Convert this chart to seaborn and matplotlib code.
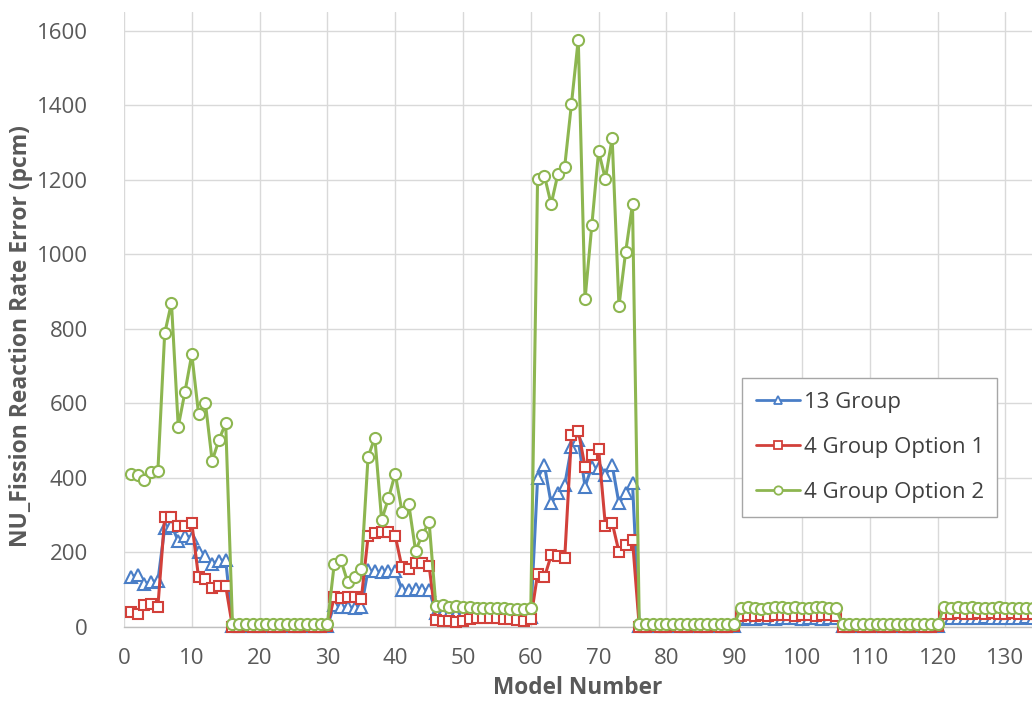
import numpy as np
import pandas as pd
import matplotlib
matplotlib.use("Agg")
import matplotlib.pyplot as plt
from matplotlib.lines import Line2D
from matplotlib.ticker import MultipleLocator
import seaborn as sns

# Model numbers 1..135, in blocks of 15 models
models = list(range(1, 136))

group13 = [
    133, 140, 115, 122, 124, 266, 272, 232, 245, 240, 200, 190, 170, 178, 180,
    3, 4, 3, 3, 4, 3, 3, 4, 3, 3, 4, 3, 3, 4, 3,
    58, 53, 54, 52, 53, 153, 150, 148, 149, 150, 100, 98, 101, 99, 100,
    38, 37, 35, 36, 34, 32, 31, 30, 29, 29, 28, 27, 26, 26, 28,
    399, 435, 332, 359, 381, 484, 502, 377, 430, 426, 408, 435, 332, 359, 386,
    3, 4, 3, 3, 4, 3, 3, 4, 3, 3, 4, 3, 3, 4, 3,
    22, 23, 22, 24, 23, 22, 23, 24, 23, 22, 24, 23, 22, 23, 24,
    3, 4, 3, 3, 4, 3, 3, 4, 3, 3, 4, 3, 3, 4, 3,
    24, 25, 24, 25, 24, 25, 26, 25, 24, 25, 24, 25, 26, 25, 24,
]

group4_opt1 = [
    40, 35, 58, 62, 55, 294, 296, 272, 270, 279, 133, 130, 105, 110, 110,
    1, 1, 2, 1, 1, 2, 1, 1, 2, 1, 1, 2, 1, 1, 2,
    80, 78, 81, 80, 75, 243, 252, 256, 255, 245, 160, 157, 173, 172, 165,
    18, 16, 15, 14, 15, 22, 25, 24, 24, 23, 22, 21, 18, 17, 22,
    142, 133, 192, 190, 184, 515, 527, 430, 462, 478, 272, 280, 202, 220, 234,
    1, 1, 2, 1, 1, 2, 1, 1, 2, 1, 1, 2, 1, 1, 2,
    30, 31, 30, 32, 30, 31, 33, 31, 30, 32, 31, 30, 32, 31, 30,
    1, 1, 2, 1, 1, 2, 1, 1, 2, 1, 1, 2, 1, 1, 2,
    36, 35, 37, 36, 35, 37, 36, 38, 36, 35, 37, 36, 35, 36, 37,
]

group4_opt2 = [
    412, 408, 395, 415, 420, 788, 870, 538, 632, 732, 572, 602, 446, 502, 547,
    8, 7, 8, 9, 8, 7, 8, 8, 9, 8, 7, 8, 8, 7, 8,
    168, 179, 120, 133, 155, 457, 508, 287, 345, 412, 310, 330, 205, 247, 282,
    57, 58, 55, 56, 55, 53, 52, 50, 50, 51, 50, 49, 48, 48, 50,
    1204, 1212, 1135, 1216, 1236, 1405, 1577, 880, 1079, 1277, 1203, 1312, 862, 1008, 1135,
    8, 7, 8, 9, 8, 7, 8, 8, 9, 8, 7, 8, 8, 7, 8,
    50, 54, 52, 48, 50, 55, 53, 51, 54, 52, 50, 53, 55, 52, 50,
    7, 8, 7, 8, 9, 7, 8, 7, 8, 8, 7, 9, 8, 7, 8,
    55, 52, 53, 50, 54, 52, 51, 50, 53, 52, 50, 51, 52, 50, 50,
]

series_names = ["13 Group", "4 Group Option 1", "4 Group Option 2"]
series_colors = ["#4A7EC7", "#D2403A", "#8DB650"]
series_markers = ["^", "s", "o"]

y_ticks = [0, 200, 400, 600, 800, 1000, 1200, 1400, 1600]
x_ticks = list(range(0, 140, 10))

df = pd.DataFrame({"Model": models * 3,
                   "Error": group13 + group4_opt1 + group4_opt2,
                   "Series": [n for n in series_names for _ in models]})

sns.set_theme(style="white")
plt.rcParams["font.family"] = ["Open Sans", "DejaVu Sans"]

fig = plt.figure(figsize=(10.32, 7.05), dpi=100)
ax = fig.add_axes([124 / 1032, 1 - 627 / 705, 1 - 124 / 1032, (627 - 12) / 705])

for name, color, marker in zip(series_names, series_colors, series_markers):
    sub = df[df["Series"] == name]
    sns.lineplot(data=sub, x="Model", y="Error", ax=ax, color=color,
                 marker=marker, markersize=8 if marker != "s" else 7.5,
                 markerfacecolor="white", markeredgecolor=color,
                 markeredgewidth=1.5, linewidth=2.2, clip_on=False,
                 legend=False, zorder=3)

ax.set_xlim(0, (1032 - 124) / 6.78)
ax.set_ylim(0, 1651)
ax.set_xticks(x_ticks)
ax.set_yticks(y_ticks)
ax.xaxis.set_minor_locator(MultipleLocator(1))

grid_c = "#D9D9D9"
ax.grid(True, which="major", color=grid_c, linewidth=1.0)
ax.set_axisbelow(True)
for s in ["top", "right", "left"]:
    ax.spines[s].set_visible(False)
ax.spines["bottom"].set_color("#BFBFBF")
ax.spines["bottom"].set_linewidth(1.0)

ax.tick_params(axis="x", which="both", direction="inout", length=6,
               color="#BFBFBF", width=0.8, labelsize=16, labelcolor="#595959",
               pad=12)
ax.tick_params(axis="y", which="both", length=0, labelsize=16,
               labelcolor="#595959", pad=26)

ax.set_xlabel("Model Number", fontsize=16.3, fontweight="bold",
              color="#595959", labelpad=5)
ax.set_ylabel("NU_Fission Reaction Rate Error (pcm)", fontsize=16.5,
              fontweight="bold", color="#595959")
ax.yaxis.set_label_coords(-0.100, 0.473)

handles = [Line2D([0], [0], color=c, marker=m, markersize=6,
                  markerfacecolor="white", markeredgecolor=c,
                  markeredgewidth=1.3, linewidth=2.0)
           for c, m in zip(series_colors, series_markers)]
leg = fig.legend(handles, series_names, loc="upper left",
                 bbox_to_anchor=(742 / 1032, 1 - 378 / 705),
                 borderaxespad=0, fontsize=16, frameon=True, fancybox=False,
                 edgecolor="#A6A6A6", framealpha=1, handlelength=2.0,
                 handletextpad=0.15, labelspacing=1.08, borderpad=0.62)
leg.get_frame().set_linewidth(1.0)
for t in leg.get_texts():
    t.set_color("#404040")

fig.savefig("out.png", dpi=100)
